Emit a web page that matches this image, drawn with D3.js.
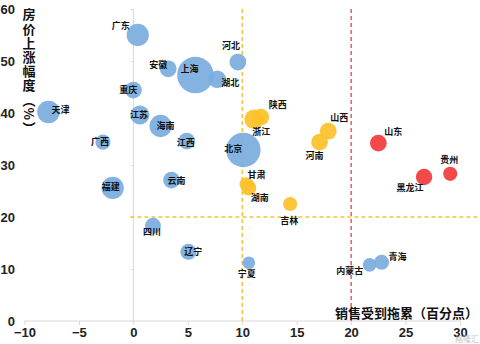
<!DOCTYPE html>
<html><head><meta charset="utf-8">
<script src="https://cdn.jsdelivr.net/npm/d3@7"></script>
<style>body{margin:0;background:#fff}svg{display:block}</style>
</head><body><svg id="c" width="480" height="344"></svg>
<script>
const provinces = ["广东","安徽","上海","湖北","河北","重庆","天津","江苏","海南","广西","江西","北京","云南","福建","四川","辽宁","宁夏","内蒙古","青海","浙江","陕西","甘肃","湖南","吉林","山西","河南","山东","黑龙江","贵州"];
const salesDrag = [0.4,3.2,5.7,7.7,9.6,0.0,-7.8,0.6,2.5,-2.8,4.9,10.1,3.5,-1.9,1.8,5.05,10.6,21.7,22.8,11.1,11.7,10.4,10.6,14.4,17.9,17.1,22.5,26.7,29.1];
const priceRise = [55.0,48.5,47.3,46.5,49.8,44.4,40.2,39.6,37.5,34.4,34.6,32.9,27.1,25.6,18.3,13.3,11.2,10.8,11.3,38.8,39.2,26.3,25.6,22.5,36.5,34.4,34.2,27.7,28.3];
const bubbleSize = [37,21,100,23,21,21,38,27,37,17,21,89,21,37,19,19,12,14,17,29,21,15,17,15,21,21,21,20,15];
const group = ["b","b","b","b","b","b","b","b","b","b","b","b","b","b","b","b","b","b","b","y","y","y","y","y","y","y","r","r","r"];
const xTicks = [-10,-5,0,5,10,15,20,25,30];
const yTicks = [0,10,20,30,40,50,60];
const yTitle = "房价上涨幅度（%）";
const xTitle = "销售受到拖累（百分点）";
// label placement offsets (px) relative to bubble centre
const labelOffset = [[-17,-9],[-10,-4],[-6,-6],[13,4],[-7,-16],[-5,0],[12,-2],[-1,0],[5,0],[-3,0],[-1,2],[-10,-1],[5,1],[-2,-1],[-1,6],[5,0],[-2,11],[-20,6],[16,-5],[7,13],[17,-12],[10,-9],[11,10],[-1,17],[11,-13],[-5,14],[15,-11],[-14,11],[-1,-14]];

const svg = d3.select("#c");
const x = d3.scaleLinear().domain([-10,30]).range([24.5,460]);
const y = d3.scaleLinear().domain([0,60]).range([321,9]);
const r = d3.scaleSqrt().domain([0,100]).range([0,18.3]);
const color = {b:"#7aaddf", y:"#fcc12a", r:"#f23a3c"};
const axisCol = "#d9d9d9";
const numFont = "'Liberation Sans', Arial, sans-serif";
const cjk = "'Noto Sans CJK SC', sans-serif";

// x axis
const xa = svg.append("g").attr("transform",`translate(0,${y(0)})`)
  .call(d3.axisBottom(x).tickValues(xTicks).tickSize(4).tickPadding(3));
xa.select(".domain").attr("stroke",axisCol).attr("d",`M${x(-10)},0H${x(30)+1}`);
xa.selectAll(".tick line").attr("stroke",axisCol);
xa.selectAll(".tick text").attr("font-family",numFont).attr("font-size",13).attr("fill","#222").attr("font-weight","bold");

// y axis line at x=0 with small ticks
const ya = svg.append("g").attr("transform",`translate(${x(0)},0)`)
  .call(d3.axisLeft(y).tickValues(yTicks).tickSize(3).tickFormat(""));
ya.select(".domain").attr("stroke",axisCol).attr("d",`M0,${y(60)}V${y(0)}`);
ya.selectAll(".tick line").attr("stroke",axisCol);
// y labels at left
svg.append("g").selectAll("text").data(yTicks).join("text")
  .attr("x",15).attr("y",d=>y(d)).attr("dy","0.35em").attr("text-anchor","end")
  .attr("font-family",numFont).attr("font-size",13).attr("font-weight","bold").attr("fill","#222")
  .text(d=>d);

// reference lines
svg.append("line").attr("x1",x(10)).attr("x2",x(10)).attr("y1",y(60)).attr("y2",y(0))
  .attr("stroke","#f2c53c").attr("stroke-width",1.5).attr("stroke-dasharray","4,3");
svg.append("line").attr("x1",x(0)-3).attr("x2",480).attr("y1",y(20)).attr("y2",y(20))
  .attr("stroke","#f2c53c").attr("stroke-width",1.5).attr("stroke-dasharray","4,3");
svg.append("line").attr("x1",x(20)).attr("x2",x(20)).attr("y1",y(60)).attr("y2",y(0))
  .attr("stroke","#d9353a").attr("stroke-width",1.2).attr("stroke-dasharray","4,3");

// bubbles
const idx = d3.range(provinces.length).sort((a,b)=>bubbleSize[b]-bubbleSize[a]);
svg.append("g").selectAll("circle").data(idx).join("circle")
  .attr("cx",i=>x(salesDrag[i])).attr("cy",i=>y(priceRise[i])).attr("r",i=>r(bubbleSize[i]))
  .attr("fill",i=>color[group[i]]).attr("fill-opacity",0.92);

// labels
svg.append("g").selectAll("text").data(d3.range(provinces.length)).join("text")
  .attr("x",i=>x(salesDrag[i])+labelOffset[i][0]).attr("y",i=>y(priceRise[i])+labelOffset[i][1])
  .attr("dy","0.35em").attr("text-anchor","middle")
  .attr("font-family",cjk).attr("font-size",9).attr("font-weight","bold").attr("fill","#111")
  .text(i=>provinces[i]);

// y title (vertical)
svg.append("text").attr("x",29).attr("y",8)
  .attr("style","writing-mode:vertical-rl;text-orientation:mixed")
  .attr("letter-spacing",1.2)
  .attr("font-family",cjk).attr("font-size",13).attr("font-weight","bold").attr("fill","#111")
  .text(yTitle);

// x title
svg.append("text").attr("x",478).attr("y",313).attr("dy","0.35em").attr("text-anchor","end")
  .attr("font-family",cjk).attr("font-size",13).attr("font-weight","bold").attr("fill","#111")
  .text(xTitle);

// watermark
svg.append("text").attr("x",479).attr("y",339).attr("dy","0.35em").attr("text-anchor","end")
  .attr("font-family",cjk).attr("font-size",8).attr("fill","#c4c4c4")
  .text("格隆汇");
</script></body></html>
